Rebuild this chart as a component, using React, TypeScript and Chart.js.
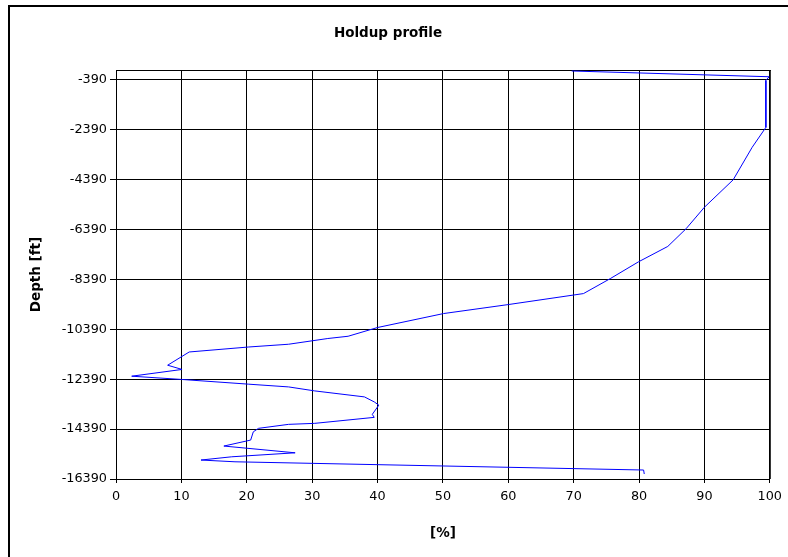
import React, { useEffect, useRef } from 'react';
import { Chart, registerables } from 'chart.js';

Chart.register(...registerables);

// Holdup [%] along the profile, top to bottom
const holdup = [
  69.7, 99.9, 99.4, 99.4, 97.3, 94.4, 90.0, 87.2, 84.4, 79.9,
  75.6, 71.5, 60.0, 50.1, 40.0, 35.5, 32.4, 26.4, 20.3, 11.2,
  7.9, 10.1, 2.4, 10.0, 20.3, 26.4, 30.4, 38.0, 39.5, 40.2,
  39.2, 39.5, 30.4, 26.4, 21.8, 21.0, 20.6, 16.5, 27.4, 17.7,
  13.0, 18.2, 80.7, 80.8,
];
// Depth [ft]
const depth = [
  -40, -270, -420, -2300, -3100, -4400, -5500, -6360, -7070, -7690,
  -8360, -8960, -9400, -9760, -10320, -10670, -10760, -10990, -11100, -11300,
  -11830, -12000, -12270, -12400, -12590, -12700, -12860, -13100, -13300, -13430,
  -13800, -13920, -14160, -14200, -14360, -14500, -14830, -15070, -15340, -15500,
  -15630, -15700, -16030, -16190,
];

const xTicks = [0, 10, 20, 30, 40, 50, 60, 70, 80, 90, 100];
const yTicks = [-16390, -14390, -12390, -10390, -8390, -6390, -4390, -2390, -390];

const chartTitle = 'Holdup profile';
const xTitle = '[%]';
const yTitle = 'Depth [ft]';

const FONT = "'DejaVu Sans', Verdana, sans-serif";

const framePlugin = {
  id: 'frames',
  beforeDraw(chart: any) {
    const ctx = chart.ctx;
    ctx.save();
    ctx.fillStyle = '#ffffff';
    ctx.fillRect(0, 0, chart.width, chart.height);
    ctx.restore();
  },
  beforeDatasetsDraw(chart: any) {
    const { ctx, chartArea } = chart;
    ctx.save();
    ctx.strokeStyle = '#000000';
    ctx.lineWidth = 1;
    ctx.beginPath();
    ctx.moveTo(chartArea.left, chartArea.top + 0.5);
    ctx.lineTo(chartArea.right + 1, chartArea.top + 0.5);
    ctx.moveTo(chartArea.right + 0.5, chartArea.top);
    ctx.lineTo(chartArea.right + 0.5, chartArea.bottom);
    ctx.stroke();
    ctx.restore();
  },
  afterDraw(chart: any) {
    const ctx = chart.ctx;
    ctx.save();
    ctx.fillStyle = '#000000';
    ctx.fillRect(8, 5, 2, chart.height);
    ctx.fillRect(8, 5, chart.width, 2);
    ctx.restore();
  },
};

export default function App() {
  const ref = useRef<HTMLCanvasElement | null>(null);

  useEffect(() => {
    if (!ref.current) return;
    const points = holdup.map((h, i) => ({ x: h, y: depth[i] }));
    const chart = new Chart(ref.current, {
      type: 'scatter',
      data: {
        datasets: [
          {
            data: points,
            showLine: true,
            borderColor: '#0000ff',
            borderWidth: 1,
            pointRadius: 0,
            tension: 0,
            fill: false,
          },
        ],
      },
      options: {
        responsive: false,
        animation: false,
        devicePixelRatio: 1,
        layout: { padding: { left: 0, right: 12, top: 0, bottom: 0 } },
        plugins: {
          legend: { display: false },
          tooltip: { enabled: false },
          title: {
            display: true,
            text: chartTitle,
            color: '#000',
            font: { family: FONT, size: 13.5, weight: 'bold' },
            padding: { top: 25, bottom: 28.8 },
          },
        },
        scales: {
          x: {
            type: 'linear',
            min: 0,
            max: 100,
            afterBuildTicks: (axis: any) => {
              axis.ticks = xTicks.map((v) => ({ value: v }));
            },
            afterFit: (axis: any) => {
              axis.height = 78;
            },
            grid: { color: '#000', lineWidth: 1, tickLength: 4, drawTicks: true },
            border: { color: '#000', width: 1 },
            ticks: {
              color: '#000',
              font: { family: FONT, size: 12.8 },
              padding: 6,
              maxRotation: 0,
              autoSkip: false,
              callback: (v: any) => String(v),
            },
            title: {
              display: true,
              text: xTitle,
              color: '#000',
              font: { family: FONT, size: 13.5, weight: 'bold' },
              padding: { top: 0, bottom: 15 },
            },
          },
          y: {
            type: 'linear',
            min: -16390,
            max: 0,
            afterBuildTicks: (axis: any) => {
              axis.ticks = yTicks.map((v) => ({ value: v }));
            },
            afterFit: (axis: any) => {
              axis.width = 116;
            },
            grid: { color: '#000', lineWidth: 1, tickLength: 6, drawTicks: true },
            border: { color: '#000', width: 1 },
            ticks: {
              color: '#000',
              font: { family: FONT, size: 12.8 },
              padding: 3,
              autoSkip: false,
              callback: (v: any) => String(v),
            },
            title: {
              display: true,
              text: yTitle,
              color: '#000',
              font: { family: FONT, size: 13.5, weight: 'bold' },
              padding: { top: 28, bottom: 0 },
            },
          },
        },
      },
      plugins: [framePlugin],
    });
    return () => chart.destroy();
  }, []);

  return (
    <div style={{ position: 'absolute', left: 0, top: 0, width: 788, height: 557, background: '#fff' }}>
      <canvas ref={ref} width={788} height={557} style={{ width: 788, height: 557, display: 'block' }} />
    </div>
  );
}
